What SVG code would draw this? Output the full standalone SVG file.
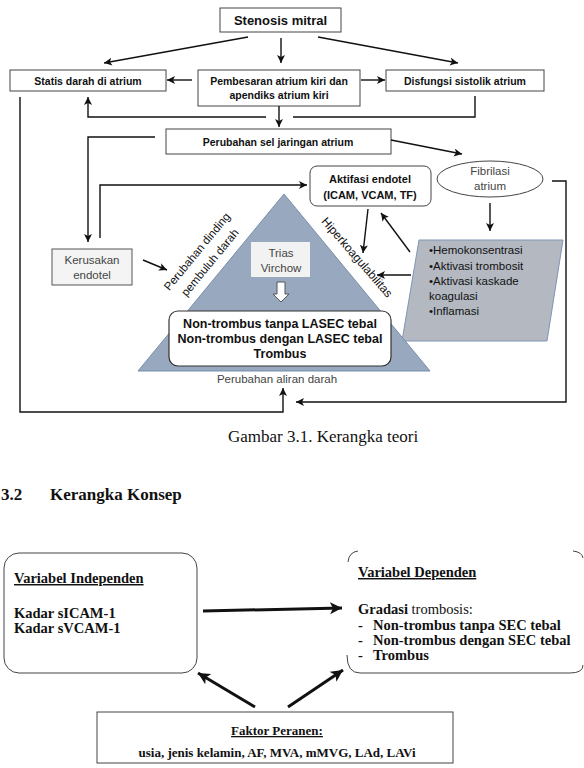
<svg xmlns="http://www.w3.org/2000/svg" width="584" height="768" viewBox="0 0 584 768">
<style>
.bx{fill:#fff;stroke:#444;stroke-width:1}
.s{font-family:"Liberation Sans",Arial,sans-serif;fill:#111}
.b{font-weight:bold}
.g{fill:#444}
.m{text-anchor:middle}
.ln{fill:none;stroke:#111;stroke-width:1.4}
.tk{fill:none;stroke:#111;stroke-width:3}
.sf{font-family:"Liberation Serif","Times New Roman",serif;fill:#111;font-weight:bold}
</style>
<defs>
<marker id="ah" markerWidth="10" markerHeight="10" refX="8" refY="4" orient="auto" markerUnits="userSpaceOnUse"><path d="M0,0 L8,4 L0,8 L2,4 z" fill="#111"/></marker>
<marker id="at" markerWidth="14" markerHeight="14" refX="12" refY="6" orient="auto" markerUnits="userSpaceOnUse"><path d="M0,0 L12,6 L0,12 L3,6 z" fill="#111"/></marker>
</defs>
<rect width="584" height="768" fill="#fff"/>

<g id="stenosis"><rect class="bx" x="220" y="8" width="121" height="24"/><text class="s b m" x="280.5" y="25" font-size="13">Stenosis mitral</text></g>
<g id="statis"><rect class="bx" x="10" y="70" width="156" height="21"/><text class="s b m" x="88" y="84.5" font-size="10.5">Statis darah di atrium</text></g>
<g id="pembesaran"><rect class="bx" x="198" y="70" width="162" height="36"/><text class="s b m" x="279" y="84.5" font-size="10.5">Pembesaran atrium kiri dan</text><text class="s b m" x="279" y="99" font-size="10.5">apendiks atrium kiri</text></g>
<g id="disfungsi"><rect class="bx" x="386" y="70" width="158" height="21"/><text class="s b m" x="465" y="84.5" font-size="10.5">Disfungsi sistolik atrium</text></g>
<g id="perubahan-sel"><rect class="bx" x="166" y="129" width="225" height="25"/><text class="s b m" x="278" y="145.5" font-size="10.5">Perubahan sel jaringan atrium</text></g>
<g id="fibrilasi"><ellipse cx="490" cy="179" rx="53" ry="18" fill="#fff" stroke="#444"/><text class="s g m" x="490" y="175" font-size="11.5">Fibrilasi</text><text class="s g m" x="490" y="189.5" font-size="11.5">atrium</text></g>
<g id="aktifasi"><rect class="bx" x="310" y="166" width="121" height="40" rx="7"/><text class="s b m" x="370" y="183" font-size="11">Aktifasi endotel</text><text class="s b m" x="370" y="198.5" font-size="11">(ICAM, VCAM, TF)</text></g>
<g id="kerusakan"><rect x="52" y="249" width="80" height="36" fill="#f4f4f4" stroke="#555"/><text class="s g m" x="92" y="264" font-size="11.5">Kerusakan</text><text class="s g m" x="92" y="278.5" font-size="11.5">endotel</text></g>
<g id="faktor-af"><polygon points="419,240 563,240 547,341 402,341" fill="#b3b8c1" stroke="#7f95b5"/>
<text class="s" x="429" y="254" font-size="11.5">•Hemokonsentrasi</text>
<text class="s" x="429" y="269.5" font-size="11.5">•Aktivasi trombosit</text>
<text class="s" x="429" y="284.5" font-size="11.5">•Aktivasi kaskade</text>
<text class="s" x="429" y="299.5" font-size="11.5">koagulasi</text>
<text class="s" x="429" y="314.5" font-size="11.5">•Inflamasi</text></g>
<g id="trias">
<polygon points="284,194 138,371 430,371" fill="#98a8be" stroke="#7a8fab"/>
<rect x="251" y="242" width="59" height="35" fill="#f2f2f2"/>
<text class="s g m" x="281" y="257" font-size="11.5">Trias</text>
<text class="s g m" x="281" y="272" font-size="11.5">Virchow</text>
<polygon points="277,282 285,282 285,294 289,294 281,302 273,294 277,294" fill="#fff" stroke="#555"/>
<text class="s m" transform="translate(200,254) rotate(-50.5)" font-size="11.5">Perubahan dinding</text>
<text class="s m" transform="translate(213,265) rotate(-50.5)" font-size="11.5">pembuluh darah</text>
<text class="s m" transform="translate(354,260) rotate(49)" font-size="12">Hiperkoagulabilitas</text>
</g>
<g id="hasil"><rect x="169" y="311" width="222" height="55" rx="9" fill="#fff" stroke="#333" stroke-width="1.2"/>
<text class="s b m" x="280" y="328" font-size="12.5">Non-trombus tanpa LASEC tebal</text>
<text class="s b m" x="280" y="343" font-size="12.5">Non-trombus dengan LASEC tebal</text>
<text class="s b m" x="280" y="358" font-size="12.5">Trombus</text></g>
<g id="aliran"><text class="s g m" x="277" y="383" font-size="11.5">Perubahan aliran darah</text></g>

<g id="connectors">
<path class="ln" d="M248,37 L104,63" marker-end="url(#ah)"/>
<path class="ln" d="M281,38 V63" marker-end="url(#ah)"/>
<path class="ln" d="M318,37 L458,63" marker-end="url(#ah)"/>
<path class="ln" d="M192,80 H167" marker-end="url(#ah)"/>
<path class="ln" d="M361,80 H385" marker-end="url(#ah)"/>
<path class="ln" d="M475,96 V117 H293"/>
<path class="ln" d="M266,117 H88 V97" marker-end="url(#ah)"/>
<path class="ln" d="M279,106 V127" marker-end="url(#ah)"/>
<path class="ln" d="M391,140 L462,154" marker-end="url(#ah)"/>
<path class="ln" d="M155,137 H88 V242" marker-end="url(#ah)"/>
<path class="ln" d="M100,238 V185 H307" marker-end="url(#ah)"/>
<path class="ln" d="M143,260 L167,270" marker-end="url(#ah)" stroke-width="1"/>
<path class="ln" d="M490,203 V231" marker-end="url(#ah)"/>
<path class="ln" d="M552,181 H566 V402 H296" marker-end="url(#ah)"/>
<path class="ln" d="M20,97 V412 H283 V388" marker-end="url(#ah)"/>
<path class="ln" d="M368,209 L363,253" marker-end="url(#ah)"/>
<path class="ln" d="M410,252 L381,213" marker-end="url(#ah)"/>
<path class="ln" d="M411,275 H377" marker-end="url(#ah)"/>
<path class="tk" d="M203,611 L342,608" marker-end="url(#at)"/>
<path class="tk" d="M255,707 L198,673" marker-end="url(#at)"/>
<path class="tk" d="M288,707 L343,670" marker-end="url(#at)"/>
</g>

<text x="323" y="442" font-family="Liberation Serif,serif" font-size="17" text-anchor="middle" fill="#111">Gambar 3.1. Kerangka teori</text>
<text class="sf" x="1" y="500" font-size="17">3.2</text>
<text class="sf" x="50" y="500" font-size="17">Kerangka Konsep</text>

<g id="independen"><rect x="4" y="553" width="193" height="120" rx="15" fill="#fff" stroke="#444"/>
<text class="sf" x="14" y="583" font-size="14.5" text-decoration="underline">Variabel Independen</text>
<text class="sf" x="14" y="618" font-size="14.5">Kadar sICAM-1</text>
<text class="sf" x="14" y="633" font-size="14.5">Kadar sVCAM-1</text></g>
<g id="dependen">
<path d="M348,562 Q349,552 358,551" fill="none" stroke="#444"/>
<path d="M573,551 Q582,552 583,558" fill="none" stroke="#444"/>
<path d="M347,655 Q347,673 360,673 H570 Q583,673 583,665" fill="none" stroke="#444"/>
<text class="sf" x="358" y="577" font-size="14.5" text-decoration="underline">Variabel Dependen</text>
<text class="sf" x="358" y="614" font-size="14.5">Gradasi <tspan font-weight="normal">trombosis:</tspan></text>
<text class="sf" x="358" y="630" font-size="14.5">-</text><text class="sf" x="373" y="630" font-size="14.5">Non-trombus tanpa SEC tebal</text>
<text class="sf" x="358" y="645" font-size="14.5">-</text><text class="sf" x="373" y="645" font-size="14.5">Non-trombus dengan SEC tebal</text>
<text class="sf" x="358" y="660" font-size="14.5">-</text><text class="sf" x="373" y="660" font-size="14.5">Trombus</text></g>
<g id="faktor-peranen"><rect x="97" y="712" width="356" height="51" fill="#fff" stroke="#444"/>
<text class="sf" x="277" y="735" font-size="13" text-anchor="middle" text-decoration="underline">Faktor Peranen:</text>
<text class="sf" x="277" y="757" font-size="13" text-anchor="middle">usia, jenis kelamin, AF, MVA, mMVG, LAd, LAVi</text></g>
</svg>
